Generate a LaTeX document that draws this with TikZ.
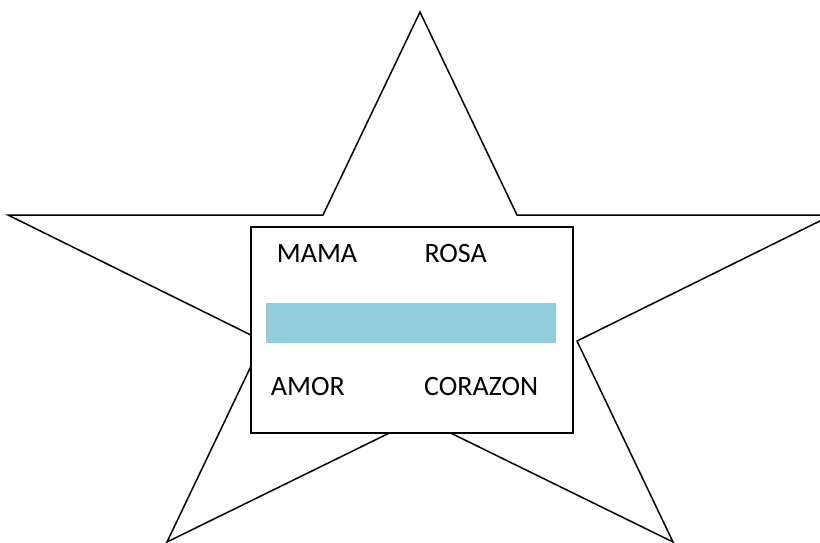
\documentclass[tikz,border=0pt]{standalone}
\usepackage{fontspec}
\setmainfont{Carlito}
\definecolor{barblue}{HTML}{92CDDC}
\begin{document}
\begin{tikzpicture}[x=1pt,y=-1pt,
  outline/.style={draw=black,line width=1.5pt,line join=miter},
  word/.style={anchor=base west,inner sep=0pt,font=\fontsize{28}{31}\selectfont}]
\useasboundingbox (0,0) rectangle (820,542);
\begin{scope}
\clip (0,0) rectangle (820,542);
\draw[outline,fill=white] (420,12) -- (517,215) -- (832,215) -- (577,341) -- (673,542)
  -- (420,418) -- (167,542) -- (263,341) -- (8,215) -- (323,215) -- cycle;
\end{scope}
\node[outline,fill=white,inner sep=0pt,minimum width=322pt,minimum height=206pt,anchor=north west] (box) at (250,226) {};
\node[fill=barblue,inner sep=0pt,minimum width=290pt,minimum height=40.5pt,anchor=north west] (bar) at (266,302.3) {};
\node[word] (mama) at (276.7,262.7) {MAMA};
\node[word] (rosa) at (424.3,262.7) {ROSA};
\node[word] (amor) at (270.7,395) {AMOR};
\node[word] (corazon) at (424,395) {CORAZON};
\end{tikzpicture}
\end{document}
